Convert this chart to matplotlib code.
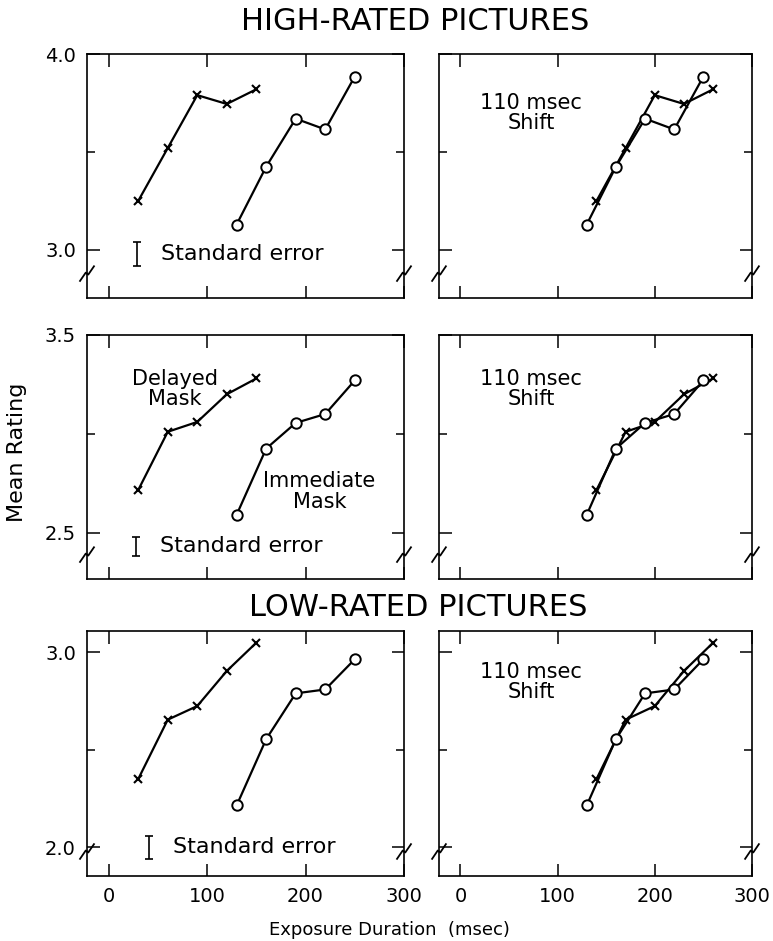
import numpy as np
import matplotlib.pyplot as plt

# exposure durations (msec)
delayed_x = [30, 60, 90, 120, 150]
immediate_x = [130, 160, 190, 220, 250]
shift = 110

# mean ratings
high_delayed = [3.25, 3.52, 3.79, 3.745, 3.82]
high_immediate = [3.13, 3.425, 3.67, 3.615, 3.885]
mid_delayed = [2.715, 3.01, 3.06, 3.20, 3.28]
mid_immediate = [2.59, 2.925, 3.055, 3.10, 3.27]
low_delayed = [2.35, 2.655, 2.725, 2.905, 3.05]
low_immediate = [2.215, 2.555, 2.79, 2.81, 2.965]

# standard error bars (x, y, half-width)
se_bars = [(29, 2.98, 0.06), (28, 2.43, 0.05), (41, 2.0, 0.06)]

rows = [
    dict(d=high_delayed, i=high_immediate, ylim=(2.755, 4.0), major=[3.0, 4.0], minor=[3.5],
         shift_text=3.80),
    dict(d=mid_delayed, i=mid_immediate, ylim=(2.265, 3.5), major=[2.5, 3.5], minor=[3.0],
         shift_text=3.33),
    dict(d=low_delayed, i=low_immediate, ylim=(1.853, 3.11), major=[2.0, 3.0], minor=[2.5],
         shift_text=2.95),
]

W, H = 773, 941
fig = plt.figure(figsize=(W / 100, H / 100), dpi=100)
plt.rcParams['font.family'] = 'DejaVu Sans'

# panel boxes in pixels (left, top, right, bottom)
cols_px = [(87, 404), (439, 752)]
rows_px = [(54, 298), (335, 579), (631, 876)]


def break_mark(ax, xf):
    # little zig-zag on a vertical spine
    yf = 0.1
    dx, dy = 0.022, 0.03
    ax.plot([xf - dx, xf - 0.004, xf + 0.004, xf + dx],
            [yf - dy, yf + 0.004, yf - 0.004, yf + dy],
            transform=ax.transAxes, color='k', lw=1.3, clip_on=False, zorder=5)


for r, row in enumerate(rows):
    top, bot = rows_px[r]
    for c in range(2):
        l, rt = cols_px[c]
        ax = fig.add_axes([l / W, 1 - bot / H, (rt - l) / W, (bot - top) / H])
        ax.set_xlim(-22, 300)
        ax.set_ylim(*row['ylim'])
        ax.set_xticks([0, 100, 200, 300])
        ax.set_yticks(row['major'])
        ax.set_yticks(row['minor'], minor=True)
        ax.tick_params(which='both', direction='in', top=True, right=True,
                       labelsize=14, width=1.1, pad=8)
        ax.tick_params(which='major', length=9)
        ax.tick_params(which='minor', length=6)
        for sp in ax.spines.values():
            sp.set_linewidth(1.2)
        if c == 0:
            ax.set_yticklabels([f'{v:.1f}' for v in row['major']])
        else:
            ax.set_yticklabels([])
        if r < 2:
            ax.set_xticklabels([])

        if c == 0:
            dx = delayed_x
        else:
            dx = [x + shift for x in delayed_x]
        ax.plot(dx, row['d'], color='k', lw=1.6, marker='x', ms=6, mew=1.5)
        ax.plot(immediate_x, row['i'], color='k', lw=1.6, marker='o', ms=7.5,
                mfc='white', mew=1.4)

        if c == 0:
            sx, sy, se = se_bars[r]
            ax.errorbar([sx], [sy], yerr=[se], fmt='none', ecolor='k', capsize=3,
                        elinewidth=1.2, capthick=1.2)
            ax.text(sx + 24, sy, 'Standard error', fontsize=16, va='center', ha='left')
        else:
            ax.text(73, row['shift_text'], '110 msec\nShift', fontsize=15, va='top',
                    ha='center', linespacing=1.0)

        break_mark(ax, 0.0)
        break_mark(ax, 1.0)

        if r == 1 and c == 0:
            ax.text(67, 3.33, 'Delayed\nMask', fontsize=15, va='top', ha='center',
                    linespacing=1.05)
            ax.text(214, 2.81, 'Immediate\nMask', fontsize=15, va='top', ha='center',
                    linespacing=1.05)

fig.text(415 / W, 1 - 21 / H, 'HIGH-RATED PICTURES', fontsize=22, ha='center', va='center')
fig.text(418 / W, 1 - 608 / H, 'LOW-RATED PICTURES', fontsize=22, ha='center', va='center')
fig.text(17 / W, 1 - 452 / H, 'Mean Rating', fontsize=16, rotation=90, ha='center', va='center')
fig.text(389 / W, 1 - 930 / H, 'Exposure Duration  (msec)', fontsize=13, ha='center',
         va='center')

fig.savefig('out.png', dpi=100)
